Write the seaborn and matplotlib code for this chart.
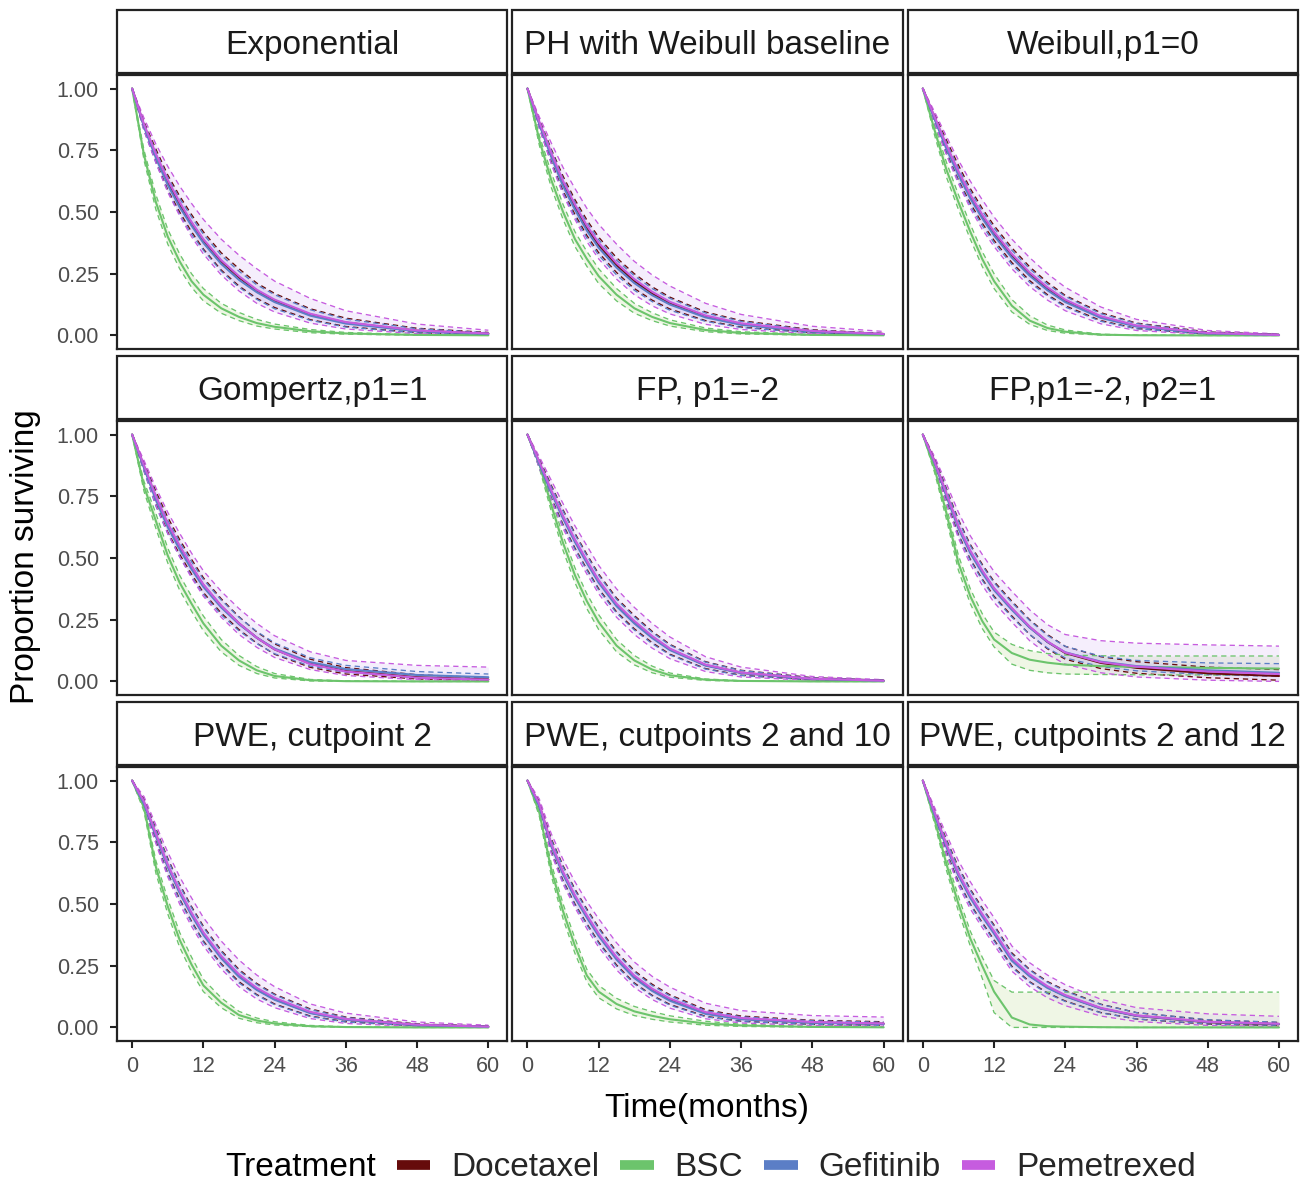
import numpy as np
import pandas as pd
import matplotlib
matplotlib.use("Agg")
import matplotlib.pyplot as plt
import seaborn as sns
from matplotlib.lines import Line2D
from matplotlib.patches import Rectangle

# ---------------- data ----------------
TIME = [0, 2, 4, 6, 8, 10, 12, 15, 18, 21, 24, 30, 36, 48, 60]
TREATMENTS = ["Docetaxel", "BSC", "Gefitinib", "Pemetrexed"]
MODELS = ["Exponential", "PH with Weibull baseline", "Weibull,p1=0",
          "Gompertz,p1=1", "FP, p1=-2", "FP,p1=-2, p2=1",
          "PWE, cutpoint 2", "PWE, cutpoints 2 and 10", "PWE, cutpoints 2 and 12"]
X_TICKS = [0, 12, 24, 36, 48, 60]
Y_TICKS = [0.00, 0.25, 0.50, 0.75, 1.00]

# Exponential
EXP_DOC    = [1, .85, .73, .62, .53, .455, .385, .30, .235, .18, .14, .085, .052, .019, .007]
EXP_DOC_LO = [1, .835, .705, .59, .50, .42, .35, .265, .20, .15, .113, .064, .036, .011, .003]
EXP_DOC_HI = [1, .865, .755, .65, .565, .49, .42, .335, .27, .212, .17, .108, .07, .029, .012]
EXP_BSC    = [1, .73, .54, .40, .30, .22, .165, .11, .075, .05, .035, .017, .008, .002, .0005]
EXP_BSC_LO = [1, .71, .51, .37, .27, .195, .14, .09, .06, .038, .026, .011, .005, .001, .0002]
EXP_BSC_HI = [1, .75, .57, .43, .33, .25, .19, .13, .093, .065, .046, .024, .012, .003, .001]
EXP_GEF    = [1, .845, .72, .61, .52, .445, .375, .29, .225, .175, .135, .08, .048, .017, .006]
EXP_GEF_LO = [1, .83, .70, .585, .49, .41, .345, .26, .195, .146, .108, .061, .034, .01, .003]
EXP_GEF_HI = [1, .86, .745, .64, .555, .48, .41, .325, .26, .205, .165, .104, .066, .027, .011]
EXP_PEM    = [1, .855, .735, .63, .54, .46, .39, .305, .24, .185, .145, .088, .054, .02, .008]
EXP_PEM_LO = [1, .83, .70, .58, .485, .40, .33, .245, .18, .13, .095, .05, .026, .007, .002]
EXP_PEM_HI = [1, .88, .775, .685, .605, .535, .47, .39, .325, .27, .22, .15, .10, .046, .021]

# PH with Weibull baseline
PHW_DOC    = [1, .86, .73, .615, .52, .435, .365, .285, .22, .17, .13, .077, .046, .016, .005]
PHW_DOC_LO = [1, .845, .705, .585, .49, .405, .335, .255, .19, .143, .107, .06, .034, .011, .003]
PHW_DOC_HI = [1, .875, .755, .645, .55, .468, .398, .315, .25, .197, .155, .095, .06, .023, .008]
PHW_BSC    = [1, .79, .63, .50, .39, .31, .24, .165, .11, .075, .05, .022, .01, .002, .0005]
PHW_BSC_LO = [1, .77, .60, .47, .36, .28, .21, .14, .09, .06, .038, .015, .006, .001, .0002]
PHW_BSC_HI = [1, .81, .66, .53, .42, .34, .27, .19, .13, .092, .063, .03, .015, .004, .001]
PHW_GEF    = [1, .855, .725, .605, .51, .425, .355, .275, .212, .163, .125, .073, .043, .015, .005]
PHW_GEF_LO = [1, .84, .70, .578, .48, .395, .325, .245, .183, .137, .102, .057, .032, .01, .003]
PHW_GEF_HI = [1, .87, .75, .635, .54, .458, .388, .305, .242, .19, .15, .091, .057, .021, .008]
PHW_PEM    = [1, .865, .74, .625, .53, .445, .375, .293, .228, .177, .136, .081, .049, .018, .006]
PHW_PEM_LO = [1, .84, .695, .57, .47, .38, .31, .228, .165, .12, .087, .045, .024, .007, .002]
PHW_PEM_HI = [1, .885, .78, .68, .595, .515, .45, .37, .30, .245, .20, .13, .085, .037, .016]

# Weibull, p1=0
WEI_DOC    = [1, .88, .765, .66, .565, .485, .415, .325, .25, .19, .14, .075, .038, .009, .002]
WEI_DOC_LO = [1, .865, .74, .63, .535, .455, .385, .295, .222, .165, .12, .06, .028, .005, .001]
WEI_DOC_HI = [1, .895, .79, .69, .595, .515, .445, .355, .278, .215, .162, .092, .05, .014, .004]
WEI_BSC    = [1, .83, .67, .54, .42, .31, .22, .12, .06, .03, .015, .003, .0007, 0, 0]
WEI_BSC_LO = [1, .81, .64, .51, .39, .28, .19, .095, .045, .02, .009, .0015, .0003, 0, 0]
WEI_BSC_HI = [1, .85, .70, .57, .45, .34, .25, .145, .08, .042, .022, .005, .0012, 0, 0]
WEI_GEF    = [1, .875, .755, .65, .555, .475, .405, .315, .242, .183, .135, .071, .036, .008, .002]
WEI_GEF_LO = [1, .86, .735, .625, .525, .445, .375, .287, .215, .16, .115, .057, .027, .005, .001]
WEI_GEF_HI = [1, .89, .78, .678, .585, .505, .435, .345, .27, .208, .158, .088, .048, .013, .004]
WEI_PEM    = [1, .885, .77, .665, .57, .49, .42, .33, .255, .195, .145, .078, .04, .01, .002]
WEI_PEM_LO = [1, .86, .73, .615, .515, .43, .36, .27, .198, .143, .10, .047, .02, .003, .0005]
WEI_PEM_HI = [1, .905, .805, .71, .625, .55, .48, .39, .315, .25, .195, .115, .065, .02, .006]

# Gompertz, p1=1
GOM_DOC    = [1, .87, .745, .635, .545, .465, .39, .305, .235, .177, .13, .072, .042, .017, .008]
GOM_DOC_LO = [1, .855, .72, .605, .515, .435, .36, .277, .21, .155, .11, .057, .03, .01, .004]
GOM_DOC_HI = [1, .885, .77, .665, .575, .495, .42, .335, .262, .20, .152, .09, .056, .027, .015]
GOM_BSC    = [1, .79, .65, .51, .40, .315, .235, .145, .085, .045, .022, .005, .001, 0, 0]
GOM_BSC_LO = [1, .77, .62, .48, .37, .285, .205, .12, .065, .032, .014, .002, .0003, 0, 0]
GOM_BSC_HI = [1, .81, .68, .54, .43, .345, .265, .17, .105, .06, .032, .008, .002, 0, 0]
GOM_GEF    = [1, .865, .735, .625, .535, .455, .383, .30, .232, .177, .133, .078, .05, .026, .017]
GOM_GEF_LO = [1, .85, .71, .598, .505, .425, .353, .27, .205, .153, .112, .062, .037, .016, .009]
GOM_GEF_HI = [1, .88, .76, .652, .565, .485, .413, .33, .26, .202, .156, .096, .065, .04, .03]
GOM_PEM    = [1, .875, .75, .64, .55, .468, .393, .307, .236, .177, .13, .07, .04, .015, .007]
GOM_PEM_LO = [1, .855, .715, .60, .505, .42, .345, .26, .19, .138, .097, .048, .024, .007, .003]
GOM_PEM_HI = [1, .895, .785, .685, .60, .52, .448, .365, .295, .235, .185, .12, .085, .065, .058]

# FP, p1=-2
FP1_DOC    = [1, .885, .77, .665, .57, .485, .405, .31, .24, .18, .13, .066, .035, .01, .003]
FP1_DOC_LO = [1, .87, .745, .635, .54, .455, .375, .282, .213, .157, .11, .052, .025, .006, .0015]
FP1_DOC_HI = [1, .90, .795, .695, .60, .515, .435, .338, .267, .203, .15, .08, .045, .015, .005]
FP1_BSC    = [1, .88, .715, .56, .43, .325, .24, .145, .085, .048, .025, .007, .002, 0, 0]
FP1_BSC_LO = [1, .865, .69, .53, .40, .295, .21, .12, .067, .035, .017, .004, .001, 0, 0]
FP1_BSC_HI = [1, .895, .74, .59, .46, .355, .27, .17, .105, .062, .034, .01, .003, 0, 0]
FP1_GEF    = [1, .88, .765, .66, .565, .48, .40, .305, .235, .176, .127, .064, .034, .01, .003]
FP1_GEF_LO = [1, .865, .74, .63, .535, .45, .37, .277, .208, .153, .107, .05, .024, .006, .0015]
FP1_GEF_HI = [1, .895, .79, .69, .595, .51, .43, .333, .262, .199, .147, .078, .044, .014, .005]
FP1_PEM    = [1, .89, .775, .67, .575, .49, .41, .315, .245, .184, .133, .068, .036, .011, .003]
FP1_PEM_LO = [1, .865, .735, .62, .52, .435, .355, .26, .19, .135, .092, .04, .018, .004, .001]
FP1_PEM_HI = [1, .91, .815, .72, .63, .55, .47, .375, .30, .235, .18, .10, .058, .02, .007]

# FP, p1=-2, p2=1
FP2_DOC    = [1, .89, .755, .625, .525, .445, .375, .295, .22, .16, .115, .075, .055, .033, .022]
FP2_DOC_LO = [1, .875, .73, .595, .495, .415, .345, .265, .19, .132, .09, .052, .033, .015, .005]
FP2_DOC_HI = [1, .905, .78, .655, .555, .475, .405, .325, .25, .19, .142, .10, .08, .058, .048]
FP2_BSC    = [1, .86, .68, .48, .345, .245, .17, .115, .088, .076, .068, .062, .059, .055, .052]
FP2_BSC_LO = [1, .845, .655, .45, .315, .215, .14, .07, .045, .035, .03, .028, .027, .026, .025]
FP2_BSC_HI = [1, .875, .705, .51, .375, .275, .20, .15, .125, .113, .107, .104, .103, .103, .103]
FP2_GEF    = [1, .885, .75, .62, .52, .44, .37, .29, .218, .16, .118, .08, .062, .045, .035]
FP2_GEF_LO = [1, .87, .725, .59, .49, .41, .34, .26, .19, .135, .095, .06, .043, .028, .02]
FP2_GEF_HI = [1, .90, .775, .65, .55, .47, .40, .32, .247, .186, .142, .102, .085, .075, .072]
FP2_PEM    = [1, .89, .76, .63, .53, .45, .378, .297, .222, .162, .117, .078, .06, .04, .03]
FP2_PEM_LO = [1, .87, .72, .58, .475, .39, .32, .24, .165, .11, .07, .035, .018, .005, 0]
FP2_PEM_HI = [1, .91, .80, .685, .59, .515, .445, .365, .29, .23, .19, .165, .155, .148, .143]

# PWE, cutpoint 2
PW1_DOC    = [1, .91, .78, .655, .55, .46, .38, .285, .21, .155, .115, .06, .032, .01, .003]
PW1_DOC_LO = [1, .895, .755, .625, .52, .43, .35, .258, .185, .133, .095, .046, .023, .006, .0015]
PW1_DOC_HI = [1, .925, .805, .685, .58, .49, .41, .312, .235, .178, .135, .075, .042, .014, .005]
PW1_BSC    = [1, .89, .65, .49, .355, .255, .17, .10, .05, .028, .016, .005, .0015, 0, 0]
PW1_BSC_LO = [1, .875, .625, .46, .325, .225, .145, .08, .037, .019, .01, .003, .0008, 0, 0]
PW1_BSC_HI = [1, .905, .675, .52, .385, .285, .195, .12, .065, .038, .023, .008, .0025, 0, 0]
PW1_GEF    = [1, .905, .775, .65, .545, .455, .375, .28, .205, .152, .112, .058, .031, .009, .003]
PW1_GEF_LO = [1, .89, .75, .62, .515, .425, .345, .253, .18, .13, .092, .044, .022, .006, .0015]
PW1_GEF_HI = [1, .92, .80, .68, .575, .485, .405, .307, .23, .174, .132, .072, .04, .013, .005]
PW1_PEM    = [1, .915, .785, .66, .555, .465, .385, .29, .215, .16, .12, .063, .034, .011, .003]
PW1_PEM_LO = [1, .89, .745, .61, .50, .41, .33, .237, .165, .115, .08, .036, .016, .004, .001]
PW1_PEM_HI = [1, .935, .82, .71, .61, .525, .445, .35, .273, .212, .165, .095, .058, .022, .009]

# PWE, cutpoints 2 and 10
PW2_DOC    = [1, .90, .74, .625, .53, .45, .375, .28, .205, .152, .112, .058, .035, .02, .015]
PW2_DOC_LO = [1, .885, .715, .595, .50, .42, .345, .253, .18, .13, .093, .045, .025, .012, .008]
PW2_DOC_HI = [1, .915, .765, .655, .56, .48, .405, .307, .23, .175, .132, .072, .046, .029, .023]
PW2_BSC    = [1, .87, .64, .47, .33, .21, .145, .095, .065, .047, .033, .016, .008, .002, .0005]
PW2_BSC_LO = [1, .855, .615, .44, .30, .185, .12, .075, .048, .033, .022, .009, .004, .001, .0002]
PW2_BSC_HI = [1, .885, .665, .50, .36, .235, .17, .118, .085, .064, .047, .025, .013, .004, .001]
PW2_GEF    = [1, .895, .735, .62, .525, .445, .37, .275, .20, .148, .108, .055, .033, .019, .014]
PW2_GEF_LO = [1, .88, .71, .59, .495, .415, .34, .248, .176, .127, .09, .043, .024, .012, .008]
PW2_GEF_HI = [1, .91, .76, .65, .555, .475, .40, .302, .225, .17, .128, .068, .043, .027, .021]
PW2_PEM    = [1, .905, .745, .63, .535, .455, .38, .285, .21, .157, .117, .062, .038, .022, .016]
PW2_PEM_LO = [1, .88, .705, .58, .485, .40, .325, .233, .162, .113, .078, .035, .018, .008, .005]
PW2_PEM_HI = [1, .925, .785, .68, .59, .51, .44, .343, .265, .207, .163, .098, .068, .048, .042]

# PWE, cutpoints 2 and 12
PW3_DOC    = [1, .865, .735, .62, .53, .455, .385, .275, .21, .163, .128, .077, .047, .021, .013]
PW3_DOC_LO = [1, .85, .71, .59, .50, .425, .355, .248, .185, .14, .107, .06, .034, .013, .007]
PW3_DOC_HI = [1, .88, .76, .65, .56, .485, .415, .302, .235, .186, .15, .094, .06, .03, .02]
PW3_BSC    = [1, .84, .66, .50, .36, .25, .145, .04, .012, .005, .003, .001, 0, 0, 0]
PW3_BSC_LO = [1, .825, .635, .47, .33, .20, .06, 0, 0, 0, 0, 0, 0, 0, 0]
PW3_BSC_HI = [1, .855, .685, .53, .39, .285, .19, .143, .143, .143, .143, .143, .143, .143, .143]
PW3_GEF    = [1, .86, .73, .615, .525, .45, .38, .27, .207, .16, .126, .076, .047, .022, .014]
PW3_GEF_LO = [1, .845, .705, .585, .495, .42, .35, .243, .182, .137, .105, .059, .034, .014, .008]
PW3_GEF_HI = [1, .875, .755, .645, .555, .48, .41, .297, .232, .183, .147, .093, .06, .031, .021]
PW3_PEM    = [1, .87, .74, .625, .535, .46, .39, .28, .215, .167, .131, .079, .049, .023, .015]
PW3_PEM_LO = [1, .845, .70, .575, .48, .405, .335, .228, .165, .12, .088, .046, .024, .008, .004]
PW3_PEM_HI = [1, .89, .78, .675, .59, .515, .445, .33, .262, .212, .173, .114, .08, .055, .045]

PREFIXES = ["EXP", "PHW", "WEI", "GOM", "FP1", "FP2", "PW1", "PW2", "PW3"]
TR_KEYS = {"Docetaxel": "DOC", "BSC": "BSC", "Gefitinib": "GEF", "Pemetrexed": "PEM"}

# ---------------- styles ----------------
LINE_COL = {"Docetaxel": "#660b0b", "BSC": "#6cc46c", "Gefitinib": "#5b7ec6", "Pemetrexed": "#c65cdf"}
FILL_COL = {"Docetaxel": "#c9b0e0", "BSC": "#b9d98c", "Gefitinib": "#b9c6ef", "Pemetrexed": "#d2b4f2"}
FONT = "Liberation Sans"

# ---------------- long table ----------------
rows = []
g_ = globals()
for model, pre in zip(MODELS, PREFIXES):
    for tr in TREATMENTS:
        k = TR_KEYS[tr]
        m, lo, hi = g_[f"{pre}_{k}"], g_[f"{pre}_{k}_LO"], g_[f"{pre}_{k}_HI"]
        for t, a, b, c in zip(TIME, m, lo, hi):
            rows.append(dict(model=model, treatment=tr, time=t, surv=a, lo=b, hi=c))
df = pd.DataFrame(rows)

sns.set_theme(style="white")
plt.rcParams["font.family"] = [FONT, "DejaVu Sans"]

g = sns.FacetGrid(df, col="model", col_wrap=3, col_order=MODELS,
                  sharex=True, sharey=True, height=3, aspect=1.4, despine=False)


def draw(data, **kw):
    ax = plt.gca()
    for tr in TREATMENTS:
        d = data[data.treatment == tr]
        ax.fill_between(d["time"], d["lo"], d["hi"], color=FILL_COL[tr],
                        alpha=0.22, lw=0, zorder=1)
    for tr in TREATMENTS:
        d = data[data.treatment == tr]
        for col in ("lo", "hi"):
            sns.lineplot(data=d, x="time", y=col, ax=ax, color=LINE_COL[tr],
                         lw=0.95, linestyle=(0, (4, 3)), estimator=None,
                         sort=False, legend=False, zorder=2)
    for tr in TREATMENTS:
        d = data[data.treatment == tr]
        sns.lineplot(data=d, x="time", y="surv", ax=ax, color=LINE_COL[tr],
                     lw=1.5, estimator=None, sort=False, legend=False, zorder=3)


g.map_dataframe(draw)
g.set_titles("")
g.set_axis_labels("", "")

fig = g.figure
fig.set_size_inches(13.04, 11.84)
fig.subplots_adjust(left=117 / 1304, right=1298 / 1304, top=1 - 75 / 1184,
                    bottom=1 - 1041 / 1184, wspace=5 / 390, hspace=72 / 274)

for i, (ax, model) in enumerate(zip(g.axes.flat, MODELS)):
    ax.set_xlim(-2.55, 63.2)
    ax.set_ylim(-0.055, 1.055)
    ax.set_xticks(X_TICKS)
    ax.set_yticks(Y_TICKS)
    ax.set_yticklabels([f"{v:.2f}" for v in Y_TICKS])
    ax.tick_params(axis="both", which="both", direction="out", length=5, width=1.5,
                   color="#222222", labelsize=15.5, labelcolor="#4d4d4d")
    ax.tick_params(axis="y", pad=8)
    ax.tick_params(axis="x", pad=6)
    # axes (ticks + labels) only on outer panels
    ax.tick_params(axis="y", left=(i % 3 == 0), labelleft=(i % 3 == 0))
    ax.tick_params(axis="x", bottom=(i >= 6), labelbottom=(i >= 6))
    for s in ax.spines.values():
        s.set_color("#222222")
        s.set_linewidth(1.6)
    ax.set_facecolor("white")
    ax.grid(False)
    # strip
    h = 63 / 274
    y0 = 1 + 2 / 274
    ax.add_patch(Rectangle((0, y0), 1, h, transform=ax.transAxes, clip_on=False,
                           facecolor="white", edgecolor="#222222", lw=1.6, zorder=5))
    ax.text(0.5, y0 + h * 0.44, model, transform=ax.transAxes, ha="center", va="center",
            fontsize=24, color="#1a1a1a", family=FONT, zorder=6)

fig.text(707 / 1304, 1 - 1109 / 1184, "Time(months)", ha="center", va="center",
         fontsize=24, color="black", family=FONT)
fig.text(26 / 1304, 1 - 557 / 1184, "Proportion surviving", ha="center", va="center",
         rotation=90, fontsize=24, color="black", family=FONT)

# legend
fig.text(225 / 1304, 1 - 1168 / 1184, "Treatment", ha="left", va="center",
         fontsize=24, color="black", family=FONT)
handles = [Line2D([], [], color=LINE_COL[t], lw=7, solid_capstyle="butt") for t in TREATMENTS]
fig.legend(handles, TREATMENTS, loc="center left",
           bbox_to_anchor=(397 / 1304, 1 - 1168 / 1184), ncol=4, frameon=False,
           fontsize=24, handlelength=1.0, handletextpad=0.62, columnspacing=0.64,
           borderpad=0, borderaxespad=0)

fig.savefig("out.png", dpi=100, facecolor="white")
